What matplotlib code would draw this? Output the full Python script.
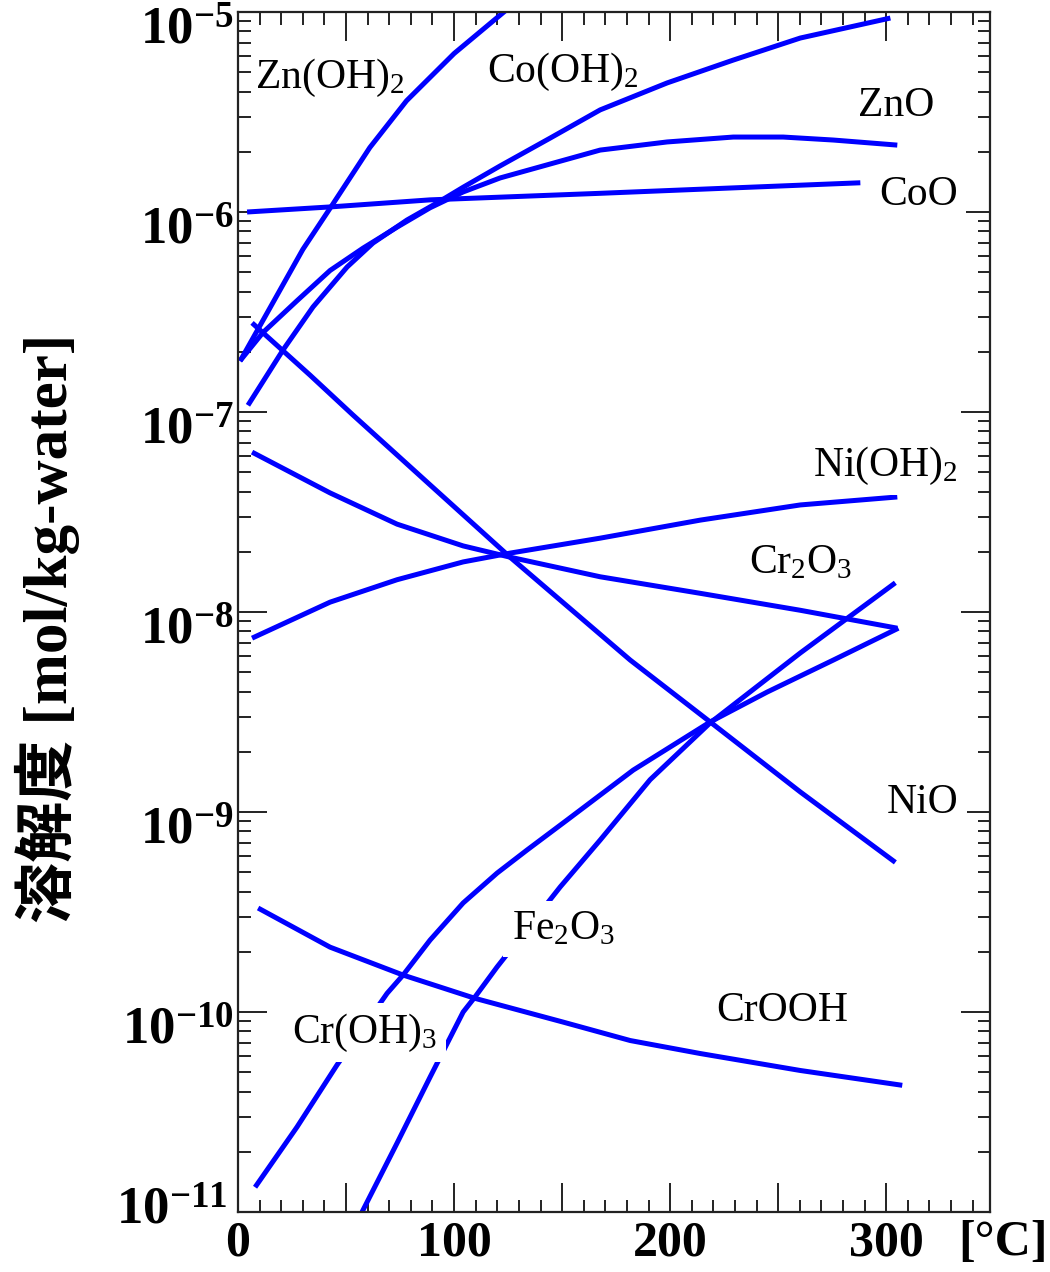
import math
import matplotlib
matplotlib.use("Agg")
import matplotlib.pyplot as plt
from matplotlib.ticker import MultipleLocator, LogLocator, FixedLocator, FuncFormatter, NullFormatter
from matplotlib.transforms import ScaledTranslation

plt.rcParams['font.family'] = ['Liberation Serif', 'Noto Sans CJK JP']
plt.rcParams['mathtext.fontset'] = 'custom'
plt.rcParams['mathtext.rm'] = 'Liberation Serif'
plt.rcParams['mathtext.it'] = 'Liberation Serif:italic'
plt.rcParams['mathtext.bf'] = 'Liberation Serif:bold'

# temperature [degC] and solubility [mol/kg-water] for each species
t_zn_oh2 = [1, 30, 44, 61, 78, 100, 124]
s_zn_oh2 = [1.8e-7, 6.5e-7, 1.1e-6, 2.1e-6, 3.6e-6, 6.2e-6, 1.02e-5]

t_co_oh2 = [4.6, 20.8, 34.7, 50.5, 62.5, 78.2, 92.1, 104.2, 121.3, 144.4, 167.6, 198.6, 229.2, 260.2, 301.9]
s_co_oh2 = [1.08e-7, 2.04e-7, 3.35e-7, 5.31e-7, 7.0e-7, 9.12e-7, 1.11e-6, 1.33e-6, 1.70e-6, 2.34e-6,
            3.24e-6, 4.42e-6, 5.75e-6, 7.41e-6, 9.33e-6]

t_zno = [0.9, 11.6, 27.3, 42.6, 57.9, 73.6, 88.9, 104.2, 121.3, 167.6, 198.6, 229.2, 252.3, 275.5, 305.1]
s_zno = [1.8e-7, 2.5e-7, 3.6e-7, 5.1e-7, 6.6e-7, 8.4e-7, 1.05e-6, 1.26e-6, 1.48e-6, 2.04e-6,
         2.24e-6, 2.37e-6, 2.37e-6, 2.29e-6, 2.16e-6]

t_coo = [4.2, 42.6, 88.9, 167.6, 229.2, 288.0]
s_coo = [1.0e-6, 1.06e-6, 1.15e-6, 1.24e-6, 1.32e-6, 1.40e-6]

t_nio = [6.5, 33.3, 53.2, 88.9, 125.9, 181.5, 218.5, 260.2, 304.2]
s_nio = [2.79e-7, 1.53e-7, 9.66e-8, 4.32e-8, 1.88e-8, 5.75e-9, 2.82e-9, 1.26e-9, 5.6e-10]

t_cr2o3 = [6.5, 42.6, 73.6, 104.2, 125.9, 167.6, 213.9, 260.2, 305.1]
s_cr2o3 = [6.3e-8, 3.94e-8, 2.75e-8, 2.14e-8, 1.88e-8, 1.50e-8, 1.24e-8, 1.02e-8, 8.3e-9]

t_ni_oh2 = [6.5, 42.6, 73.6, 104.2, 125.9, 167.6, 213.9, 260.2, 305.1]
s_ni_oh2 = [7.4e-9, 1.12e-8, 1.45e-8, 1.78e-8, 1.97e-8, 2.34e-8, 2.88e-8, 3.43e-8, 3.76e-8]

t_cr_oh3 = [7.9, 27.3, 45.8, 69.0, 76.4, 88.9, 104.2, 119.9, 133.8, 152.3, 182.9, 218.5, 244.9, 275.5, 305.6]
s_cr_oh3 = [1.33e-11, 2.66e-11, 5.43e-11, 1.24e-10, 1.53e-10, 2.29e-10, 3.51e-10, 4.95e-10, 6.46e-10,
            9.12e-10, 1.62e-9, 2.82e-9, 3.98e-9, 5.75e-9, 8.3e-9]

t_fe2o3 = [57.4, 73.6, 88.9, 104.2, 109.7, 119.9, 149.1, 167.6, 190.7, 218.5, 260.2, 304.2]
s_fe2o3 = [1.0e-11, 2.21e-11, 4.73e-11, 1.0e-10, 1.19e-10, 1.68e-10, 4.22e-10, 7.24e-10, 1.45e-9,
           2.79e-9, 6.24e-9, 1.40e-8]

t_crooh = [9.3, 42.6, 76.4, 109.7, 150.5, 181.5, 213.9, 260.2, 307.4]
s_crooh = [3.31e-10, 2.11e-10, 1.53e-10, 1.17e-10, 8.9e-11, 7.2e-11, 6.2e-11, 5.1e-11, 4.3e-11]

curves = [
    (t_zn_oh2, s_zn_oh2), (t_co_oh2, s_co_oh2), (t_zno, s_zno), (t_coo, s_coo),
    (t_nio, s_nio), (t_cr2o3, s_cr2o3), (t_ni_oh2, s_ni_oh2), (t_cr_oh3, s_cr_oh3),
    (t_fe2o3, s_fe2o3), (t_crooh, s_crooh),
]

# species names and where they are written
names = ['Zn(OH)$_2$', 'Co(OH)$_2$', 'ZnO', 'CoO', 'Ni(OH)$_2$', 'Cr$_2$O$_3$',
         'NiO', 'Fe$_2$O$_3$', 'CrOOH', 'Cr(OH)$_3$']
name_t = [42.6, 150.5, 304.6, 314.8, 299.5, 260.2, 316.7, 150.5, 251.9, 58.8]
name_s = [4.7e-6, 5.0e-6, 3.4e-6, 1.22e-6, 5.4e-8, 1.76e-8, 1.11e-9, 2.6e-10, 1.02e-10, 7.9e-11]
# the two top names sit under the curves, the rest hide them
name_z = [1, 1, 5, 5, 5, 5, 5, 5, 5, 5]

decades = [1e-11, 1e-10, 1e-9, 1e-8, 1e-7, 1e-6, 1e-5]

fig = plt.figure(figsize=(10.5, 12.72), dpi=100)
ax = fig.add_axes([238 / 1050, 1 - 1212 / 1272, 752 / 1050, 1200 / 1272])

for t, s in curves:
    ax.plot(t, s, color='#0000ff', lw=3.6, solid_capstyle='butt', zorder=2)

for name, x, y, z in zip(names, name_t, name_s, name_z):
    ax.text(x, y, name, fontsize=30, ha='center', va='center', zorder=z,
            bbox=dict(boxstyle='square,pad=0.2', fc='white', ec='none'))

ax.set_yscale('log')
ax.set_xlim(0, 348)
ax.set_ylim(1e-11, 1e-5)

ax.xaxis.set_major_locator(MultipleLocator(50))
ax.xaxis.set_minor_locator(MultipleLocator(10))
ax.xaxis.set_major_formatter(FuncFormatter(lambda v, p: '%d' % v if v % 100 == 0 else ''))
ax.yaxis.set_major_locator(FixedLocator(decades))
ax.yaxis.set_minor_locator(LogLocator(base=10, subs=range(2, 10), numticks=20))
ax.yaxis.set_major_formatter(FuncFormatter(lambda v, p: r'$\mathbf{10^{%d}}$' % round(math.log10(v))))
ax.yaxis.set_minor_formatter(NullFormatter())

ax.tick_params(which='both', direction='in', top=True, right=True, color='#222222', width=1.4)
ax.tick_params(which='major', length=21)
ax.tick_params(which='minor', length=9)
ax.tick_params(axis='x', which='major', labelsize=36, pad=6)
ax.tick_params(axis='y', which='major', labelsize=38, pad=3)
for lab in ax.get_xticklabels():
    lab.set_fontweight('bold')
for lab in ax.get_yticklabels():
    # bottom label moves up and left so it clears the x labels
    dx, dy = (-5, 5) if '-11' in lab.get_text() else (0, -10)
    lab.set_transform(lab.get_transform() + ScaledTranslation(dx / 72, dy / 72, fig.dpi_scale_trans))

for sp in ax.spines.values():
    sp.set_linewidth(1.6)
    sp.set_color('#222222')

fig.text(47 / 1050, 1 - 628 / 1272, '溶解度 [mol/kg-water]', rotation=90, ha='center', va='center',
         fontsize=44, fontweight='bold')
fig.text(1003 / 1050, 1 - 1243 / 1272, '[°C]', ha='center', va='center', fontsize=36, fontweight='bold')

fig.savefig('out.png', dpi=100)
